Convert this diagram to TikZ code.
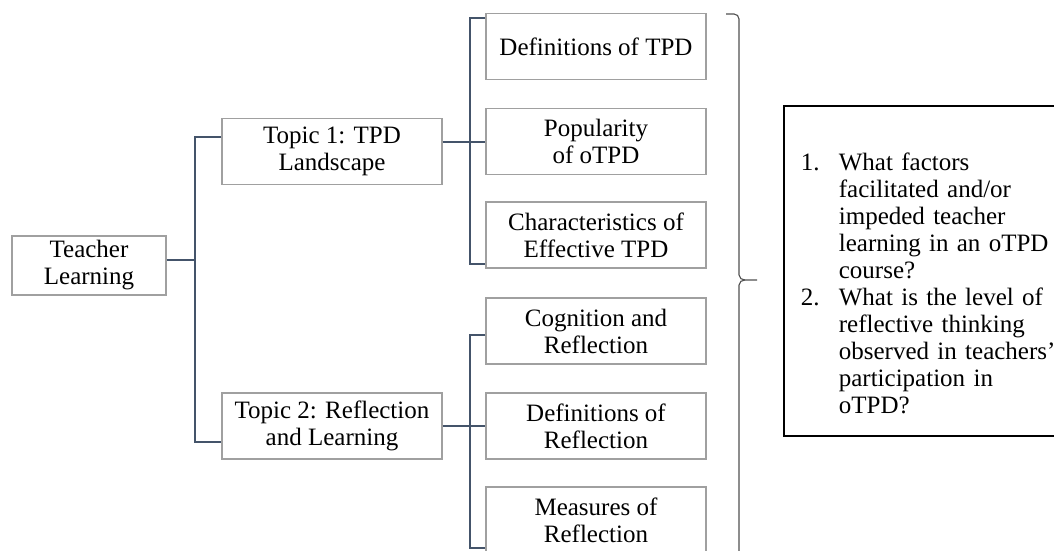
\documentclass[tikz,border=0pt]{standalone}
\usepackage{fontspec}
\setmainfont{Liberation Serif}
\usepackage{array}
\definecolor{linkblue}{HTML}{44546A}
\definecolor{boxgray}{HTML}{A0A0A0}
\definecolor{bracegray}{HTML}{505050}
\begin{document}
\begin{tikzpicture}[x=1pt,y=1pt,
  textfont/.style={font=\fontsize{25}{27}\selectfont},
  topicbox/.style={textfont, draw=boxgray, line width=1.1pt, align=center,
    inner sep=0pt, minimum width=220pt, minimum height=66pt},
  rootbox/.style={topicbox, minimum width=154pt, minimum height=59pt},
  link/.style={draw=linkblue, line width=1.9pt},
  bracepath/.style={draw=bracegray, line width=1.1pt},
  qbox/.style={textfont, draw=black, line width=1.7pt, align=left,
    inner xsep=17pt, inner ysep=0pt, text width=300pt,
    text height=65pt, text depth=265pt}]
\useasboundingbox (0,0) rectangle (1054,551);
\clip (0,0) rectangle (1054,551);

% root and the two topics
\node[rootbox]  (tl) at (89,285.5) {Teacher\\Learning};
\node[topicbox] (t1) at (332,399.5) {Topic 1: TPD\\Landscape};
\node[topicbox] (t2) at (332,125) {Topic 2: Reflection\\and Learning};

% subtopics of topic 1
\node[topicbox] (a1) at (596,504.5) {Definitions of TPD};
\node[topicbox] (a2) at (596,409.5) {Popularity\\of oTPD};
\node[topicbox] (a3) at (596,316) {Characteristics of\\Effective TPD};

% subtopics of topic 2
\node[topicbox] (b1) at (596,220) {Cognition and\\Reflection};
\node[topicbox] (b2) at (596,125) {Definitions of\\Reflection};
\node[topicbox] (b3) at (596,31) {Measures of\\Reflection};

% research questions
\node[qbox, anchor=north west] (rq) at (783,446) {%
  \begin{tabular}[t]{@{}p{38pt}@{}l@{}}
  1. & What factors\\
     & facilitated and/or\\
     & impeded teacher\\
     & learning in an oTPD\\
     & course?\\
  2. & What is the level of\\
     & reflective thinking\\
     & observed in teachers’\\
     & participation in\\
     & oTPD?
  \end{tabular}};

% junction points of the tree
\coordinate (j1) at (195,291);
\coordinate (j2) at (470,409);
\coordinate (j3) at (470,125);

% connectors
\draw[link] ([yshift=5.5pt]tl.east) -- (j1);
\draw[link] ([yshift=14.5pt]t1.west) -| (j1) |- ([yshift=-16pt]t2.west);

\draw[link] ([yshift=9.5pt]t1.east) -- ([yshift=-0.5pt]a2.west);
\draw[link] ([yshift=28.5pt]a1.west) -| (j2) |- ([yshift=-29pt]a3.west);

\draw[link] (t2.east) -- (b2.west);
\draw[link] ([yshift=-4pt]b1.west) -| (j3) |- ([yshift=-28pt]b3.west);

% curly brace in front of the questions
\coordinate (tip) at (757,271);
\draw[bracepath] (726,537) -- (734,537) to[out=0,in=90] (739,532)
  -- (739,276) to[out=-90,in=180] (745,271) -- (tip);
\draw[bracepath] (745,271) to[out=180,in=90] (739,266) -- (739,-5);
\end{tikzpicture}
\end{document}
